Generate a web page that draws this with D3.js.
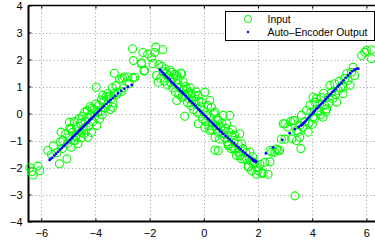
<!DOCTYPE html>
<html>
<head>
<meta charset="utf-8">
<script src="https://cdn.jsdelivr.net/npm/d3@7"></script>
<style>
  html, body { margin: 0; padding: 0; background: #fff; }
  svg { display: block; font-family: "Liberation Sans", Arial, sans-serif; }
</style>
</head>
<body>
<div id="chart"></div>
<script>
const width = 375;
const height = 244;

const xTicks = [-6, -4, -2, 0, 2, 4, 6];
const yTicks = [-4, -3, -2, -1, 0, 1, 2, 3, 4];
const legendLabels = ["Input", "Auto\u2013Encoder Output"];

// noisy input as [x, y]
const inputLeft = [
  [-6.42,-2.0],[-6.3,-2.28],[-6.12,-1.95],[-6.05,-2.12],[-6.35,-2.15],
  [-5.76,-1.37],[-5.62,-1.52],[-5.55,-1.2],[-5.42,-1.45],[-5.33,-1.86],[-5.3,-1.05],
  [-5.27,-0.69],[-5.22,-1.3],[-5.2,-1.0],[-5.1,-0.75],[-5.05,-1.68],[-5.02,-1.1],
  [-4.98,-0.9],[-4.96,-0.32],[-4.95,-0.55],[-4.9,-1.25],[-4.9,-0.57],[-4.85,-0.7],
  [-4.8,-1.0],[-4.78,-0.3],[-4.76,-1.0],[-4.72,-0.85],[-4.71,-0.81],[-4.7,-0.5],
  [-4.65,-1.12],[-4.62,-0.2],[-4.6,-0.65],[-4.55,-0.35],[-4.53,-0.69],[-4.52,-0.9],
  [-4.48,-0.1],[-4.45,-0.55],[-4.42,-0.75],[-4.4,0.05],[-4.38,-0.3],[-4.35,-0.6],
  [-4.3,0.1],[-4.28,-0.88],[-4.28,-0.15],[-4.25,-0.45],[-4.2,0.25],[-4.18,-0.05],
  [-4.15,-0.7],[-4.12,0.2],[-4.1,-0.3],[-4.05,0.15],[-4.02,-0.1],[-3.98,0.35],
  [-3.97,0.97],[-3.95,-0.45],[-3.92,0.05],[-3.88,0.3],[-3.85,-0.2],[-3.8,0.1],
  [-3.78,0.5],[-3.75,-0.05],[-3.73,0.67],[-3.7,0.45],[-3.65,0.2],[-3.6,0.62],
  [-3.55,0.35],[-3.54,0.74],[-3.5,0.65],[-3.45,0.15],[-3.42,0.55],[-3.38,0.95],
  [-3.36,0.23],[-3.35,0.4],[-3.3,0.75],[-3.3,1.49],[-3.24,1.04],[-3.22,0.7],
  [-3.17,0.78],[-3.11,1.28],[-3.05,0.8],[-3.0,1.3],[-2.95,0.95],[-2.93,1.35],
  [-2.8,1.35],[-2.75,1.1],[-2.62,1.32],[-2.55,1.34],[-2.63,2.4],[-2.6,1.96]
];

const inputMid = [
  [-2.3,1.84],[-2.25,2.26],[-2.3,1.88],[-2.21,1.57],[-2.18,1.59],[-2.07,2.2],
  [-1.93,2.07],[-1.88,1.85],[-1.81,2.26],[-1.77,2.46],[-1.75,1.41],[-1.69,1.16],
  [-1.66,1.81],[-1.51,2.37],[-1.6,1.3],[-1.55,1.75],[-1.5,1.55],[-1.45,1.2],
  [-1.42,1.65],[-1.38,1.47],[-1.35,1.05],[-1.3,1.4],[-1.25,1.6],[-1.22,1.15],
  [-1.19,1.53],[-1.15,0.95],[-1.12,1.3],[-1.08,1.45],[-1.05,0.8],[-1.0,1.41],
  [-1.0,0.48],[-0.98,1.1],[-0.95,1.25],[-0.92,0.7],[-0.88,0.95],[-0.85,1.5],
  [-0.82,1.47],[-0.8,0.6],[-0.76,1.16],[-0.75,0.85],[-0.7,0.67],[-0.7,-0.1],
  [-0.68,1.0],[-0.64,0.91],[-0.6,0.4],[-0.58,0.75],[-0.55,0.55],[-0.5,0.95],
  [-0.48,0.3],[-0.45,0.74],[-0.42,0.5],[-0.38,0.15],[-0.35,0.65],[-0.3,0.35],
  [-0.28,0.8],[-0.25,0.05],[-0.21,0.67],[-0.21,-0.38],[-0.18,0.45],[-0.15,-0.01],
  [-0.12,0.25],[-0.08,0.42],[-0.05,-0.2],[-0.02,0.1],[0.04,0.79],[0.04,-0.52],
  [0.08,-0.3],[0.1,-0.07],[0.14,0.3],[0.18,-0.45],[0.22,0.48],[0.22,-0.63],
  [0.25,-0.15],[0.28,0.23],[0.28,-0.58],[0.32,-0.35],[0.36,0.0],[0.41,0.05],
  [0.41,-0.89],[0.41,-1.35],[0.45,-0.45],[0.47,-0.57],[0.5,-0.2],[0.53,-0.26],
  [0.53,-0.7],[0.53,-1.38],[0.58,-0.95],[0.62,-0.5],[0.66,-0.35],[0.71,-0.07],
  [0.72,-0.75],[0.77,-0.89],[0.8,-0.55],[0.84,-0.38],[0.86,-1.05],[0.9,-1.14],
  [0.9,-1.19],[0.93,-0.7],[0.96,-0.07],[1.0,-1.3],[1.02,-0.83],[1.05,-0.6],
  [1.08,-1.26],[1.12,-1.0],[1.14,-0.81],[1.14,-1.31],[1.2,-1.55],[1.27,-1.14],
  [1.27,-1.43],[1.33,-0.75],[1.33,-1.57],[1.39,-1.12],[1.39,-1.68],[1.45,-1.3],
  [1.51,-1.69],[1.55,-1.45],[1.58,-1.68],[1.64,-1.94],[1.64,-1.99],[1.7,-1.43],
  [1.72,-1.75],[1.76,-2.12],[1.8,-1.6],[1.82,-1.86],[1.88,-1.81],[1.94,-2.25],
  [1.96,-2.0],[2.0,-2.11],[2.07,-1.88],[2.13,-2.21],[2.19,-2.21],[2.25,-1.81],
  [2.37,-2.25],[2.44,-1.79]
];

const inputRight = [
  [2.44,-1.37],[2.5,-1.43],[2.62,-1.44],[2.68,-1.32],[2.74,-1.37],[2.8,-1.37],
  [2.86,-0.95],[2.93,-0.38],[2.99,-0.95],[2.99,-0.38],[3.1,-0.5],[3.2,-0.3],
  [3.24,-0.94],[3.3,-0.26],[3.36,-3.05],[3.36,-0.26],[3.42,-0.63],[3.42,-1.0],
  [3.48,-0.69],[3.54,-0.44],[3.54,-0.88],[3.58,-1.3],[3.6,-0.07],[3.66,-0.51],
  [3.72,-0.3],[3.79,0.11],[3.85,-0.69],[3.88,-0.35],[3.91,0.3],[3.95,0.05],
  [4.0,-0.4],[4.03,0.6],[4.03,-0.14],[4.08,-0.2],[4.1,0.42],[4.15,0.55],
  [4.18,0.1],[4.22,0.05],[4.28,0.36],[4.3,-0.05],[4.34,0.6],[4.4,-0.14],
  [4.42,0.75],[4.46,0.3],[4.5,0.05],[4.53,0.17],[4.59,0.6],[4.62,0.4],
  [4.65,1.04],[4.71,0.79],[4.75,0.55],[4.83,1.1],[4.86,0.7],[4.9,0.42],
  [4.96,0.85],[5.0,1.2],[5.05,0.95],[5.14,0.73],[5.14,0.97],[5.2,1.3],
  [5.27,1.47],[5.32,1.22],[5.4,1.05],[5.45,1.53],[5.51,1.71],[5.57,1.41],
  [5.82,2.15],[5.94,2.27],[6.0,2.33],[6.19,2.36],[6.19,2.03]
];

// reconstructed output, [x, y]
const outputLeft = [
  [-5.69,-1.72],[-5.65,-1.68],[-5.6,-1.64],[-5.52,-1.56],[-5.45,-1.49],[-5.38,-1.42],
  [-5.3,-1.34],[-5.24,-1.28],[-5.18,-1.22],[-5.12,-1.16],[-5.06,-1.1],[-5.0,-1.04],
  [-4.94,-0.98],[-4.88,-0.92],[-4.83,-0.87],[-4.78,-0.82],[-4.73,-0.77],[-4.68,-0.72],
  [-4.63,-0.67],[-4.58,-0.62],[-4.53,-0.57],[-4.48,-0.52],[-4.44,-0.48],[-4.4,-0.44],
  [-4.36,-0.4],[-4.32,-0.36],[-4.28,-0.32],[-4.24,-0.28],[-4.2,-0.24],[-4.15,-0.19],
  [-4.1,-0.14],[-4.05,-0.09],[-4.0,-0.04],[-3.94,0.02],[-3.88,0.08],[-3.82,0.14],
  [-3.75,0.21],[-3.68,0.28],[-3.6,0.36],[-3.52,0.43],[-3.44,0.5],[-3.36,0.57],
  [-3.27,0.65],[-3.17,0.74],[-3.05,0.84],[-2.93,0.92],[-2.8,0.99],[-2.66,1.06]
];

const outputMid = [
  [-1.62,1.62],[-1.56,1.55],[-1.5,1.49],[-1.44,1.43],[-1.38,1.37],[-1.32,1.31],
  [-1.26,1.25],[-1.2,1.18],[-1.14,1.12],[-1.08,1.06],[-1.02,1.0],[-0.96,0.94],
  [-0.9,0.88],[-0.84,0.82],[-0.78,0.76],[-0.72,0.7],[-0.66,0.64],[-0.6,0.57],
  [-0.54,0.51],[-0.48,0.45],[-0.42,0.39],[-0.36,0.33],[-0.3,0.27],[-0.24,0.2],
  [-0.18,0.14],[-0.12,0.08],[-0.06,0.02],[0,-0.04],[0.06,-0.1],[0.12,-0.16],
  [0.18,-0.22],[0.24,-0.28],[0.3,-0.34],[0.36,-0.4],[0.42,-0.46],[0.48,-0.52],
  [0.54,-0.58],[0.6,-0.64],[0.66,-0.7],[0.72,-0.76],[0.8,-0.83],[0.88,-0.9],
  [0.96,-0.97],[1.04,-1.04],[1.12,-1.11],[1.2,-1.19],[1.28,-1.26],[1.36,-1.33],
  [1.44,-1.4],[1.52,-1.47],[1.6,-1.54],[1.68,-1.6],[1.74,-1.65],[1.8,-1.7],
  [1.83,-1.75],[1.85,-1.73],[1.88,-1.78],[1.9,-1.76],[1.94,-1.78]
];

const outputRight = [
  [2.29,-1.48],[2.56,-1.26],[2.9,-0.98],[3.17,-0.73],[3.36,-0.58],[3.5,-0.5],
  [3.58,-0.45],[3.62,-0.42],[3.66,-0.38],[3.7,-0.34],[3.75,-0.29],[3.8,-0.23],
  [3.85,-0.17],[3.9,-0.12],[3.95,-0.06],[4.0,-0.01],[4.05,0.05],[4.1,0.1],
  [4.15,0.16],[4.2,0.21],[4.26,0.28],[4.32,0.34],[4.38,0.4],[4.44,0.47],
  [4.5,0.53],[4.56,0.6],[4.62,0.66],[4.68,0.72],[4.74,0.79],[4.8,0.85],
  [4.87,0.92],[4.94,1.0],[5.01,1.07],[5.08,1.14],[5.16,1.23],[5.24,1.32],
  [5.32,1.41],[5.4,1.49],[5.48,1.57],[5.56,1.62],[5.63,1.65],[5.7,1.66]
];

const inputData = [...inputLeft, ...inputMid, ...inputRight];
const outputData = [...outputLeft, ...outputMid, ...outputRight];

const margin = { left: 28.5, top: 5.5, bottom: 221.5 };

const x = d3.scaleLinear()
    .domain([-6.47, 6.47])
    .range([margin.left, margin.left + 12.94 * 27.1]);

const y = d3.scaleLinear()
    .domain([-4, 4])
    .range([margin.bottom, margin.top]);

const svg = d3.select("#chart")
    .append("svg")
    .attr("width", width)
    .attr("height", height);

const x0 = x.range()[0], x1 = x.range()[1];
const y0 = y.range()[1], y1 = y.range()[0];

// dotted grid
const grid = svg.append("g")
    .attr("stroke", "#9a9a9a")
    .attr("stroke-width", 1)
    .attr("stroke-dasharray", "1,2.6");

grid.selectAll("line.vx")
    .data(xTicks)
    .join("line")
    .attr("class", "vx")
    .attr("x1", d => Math.round(x(d)) + 0.5)
    .attr("x2", d => Math.round(x(d)) + 0.5)
    .attr("y1", y0)
    .attr("y2", y1);

grid.selectAll("line.hy")
    .data(yTicks.slice(1, -1))
    .join("line")
    .attr("class", "hy")
    .attr("x1", x0)
    .attr("x2", x1)
    .attr("y1", d => Math.round(y(d)) + 0.5)
    .attr("y2", d => Math.round(y(d)) + 0.5);

// axes with inward ticks, MATLAB style
const fmt = d => d3.format("")(d).replace("-", "\u2212");

const xAxis = svg.append("g")
    .attr("transform", `translate(0,${y1})`)
    .call(d3.axisBottom(x).tickValues(xTicks).tickSize(-3).tickPadding(8).tickFormat(fmt));

const xAxisTop = svg.append("g")
    .attr("transform", `translate(0,${y0})`)
    .call(d3.axisTop(x).tickValues(xTicks).tickSize(-3).tickFormat(""));

const yAxis = svg.append("g")
    .attr("transform", `translate(${x0},0)`)
    .call(d3.axisLeft(y).tickValues(yTicks).tickSize(-3).tickPadding(6).tickFormat(fmt));

[xAxis, xAxisTop, yAxis].forEach(a => {
    a.select(".domain").remove();
    a.selectAll(".tick line").attr("stroke", "#000");
    a.selectAll("text")
        .attr("fill", "#000")
        .style("font-family", "'Liberation Sans', Arial, sans-serif")
        .style("font-size", "11px");
});

// box
svg.append("line")
    .attr("x1", x0).attr("x2", x1).attr("y1", y1).attr("y2", y1)
    .attr("stroke", "#000").attr("stroke-width", 2);
svg.append("line")
    .attr("x1", x0).attr("x2", x0).attr("y1", y0).attr("y2", y1 + 1)
    .attr("stroke", "#000").attr("stroke-width", 2);
svg.append("line")
    .attr("x1", x0).attr("x2", x1).attr("y1", y0).attr("y2", y0)
    .attr("stroke", "#000").attr("stroke-width", 1.5);

// input circles
svg.append("g")
    .selectAll("circle")
    .data(inputData)
    .join("circle")
    .attr("cx", d => x(d[0]))
    .attr("cy", d => y(d[1]))
    .attr("r", 4)
    .attr("fill", "none")
    .attr("stroke", "#00ff00")
    .attr("stroke-width", 1.1);

// output dots
svg.append("g")
    .selectAll("circle")
    .data(outputData)
    .join("circle")
    .attr("cx", d => x(d[0]))
    .attr("cy", d => y(d[1]))
    .attr("r", 1.4)
    .attr("fill", "#0000ff");

// legend
const legend = svg.append("g").attr("transform", "translate(225.5,11.5)");

legend.append("rect")
    .attr("width", 149)
    .attr("height", 29)
    .attr("fill", "#fff")
    .attr("stroke", "#000")
    .attr("stroke-width", 1);

legend.append("circle")
    .attr("cx", 22.5).attr("cy", 7.5).attr("r", 3.6)
    .attr("fill", "none").attr("stroke", "#00ff00").attr("stroke-width", 1);

legend.append("circle")
    .attr("cx", 22.5).attr("cy", 20.5).attr("r", 1.2)
    .attr("fill", "#0000ff");

legend.selectAll("text")
    .data(legendLabels)
    .join("text")
    .attr("x", 42)
    .attr("y", (d, i) => 11.5 + i * 13)
    .attr("fill", "#000")
    .style("font-size", "10.4px")
    .text(d => d);
</script>
</body>
</html>
